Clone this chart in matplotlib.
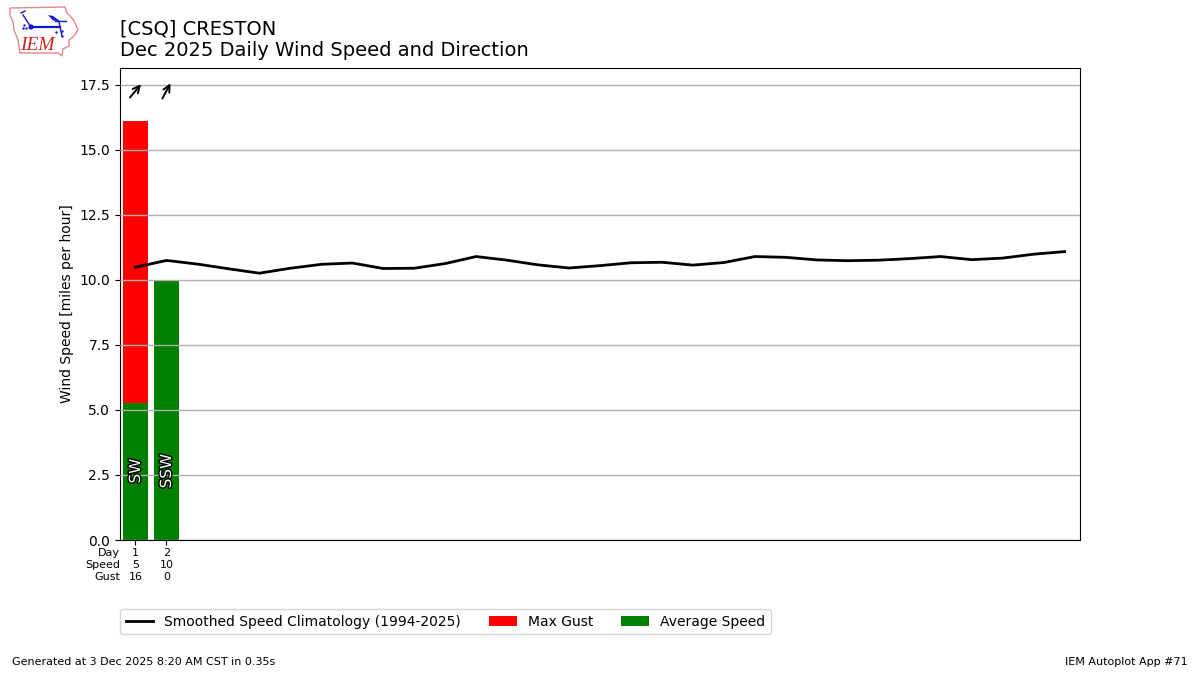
import numpy as np
import matplotlib
matplotlib.use("Agg")
import matplotlib.pyplot as plt
import matplotlib.patheffects as pe
from matplotlib.patches import Polygon, Circle
from matplotlib.transforms import offset_copy

days = [1, 2]
avg_speed = [5.27, 10.0]
max_gust = [16.1, 0.0]
directions = ["SW", "SSW"]
drct_deg = [220, 208]
speed_labels = ["5", "10"]
gust_labels = ["16", "0"]
clim_days = list(range(1, 32))
clim_speed = [10.49, 10.75, 10.61, 10.43, 10.26, 10.45, 10.60, 10.65, 10.44, 10.45,
              10.63, 10.90, 10.76, 10.58, 10.46, 10.55, 10.66, 10.68, 10.57, 10.67,
              10.90, 10.87, 10.77, 10.74, 10.76, 10.82, 10.90, 10.78, 10.84, 10.99, 11.09]
climo_label = "Smoothed Speed Climatology (1994-2025)"
table_names = ["Day", "Speed", "Gust"]

fig = plt.figure(figsize=(12, 6.75), dpi=100)
ax = fig.add_axes([0.1, 0.2, 0.8, 472 / 675])
ax.bar(days, max_gust, width=0.8, color="red", label="Max Gust", zorder=2)
ax.bar(days, avg_speed, width=0.8, color="green", label="Average Speed", zorder=2)
ax.plot(clim_days, clim_speed, color="k", lw=2, label=climo_label, zorder=3)
ax.set_xlim(0.5, 31.5)
ax.set_ylim(0, 18.15)
ax.set_yticks(np.arange(0, 18, 2.5))
ax.set_axisbelow(False)
ax.yaxis.grid(True, color="#b0b0b0", lw=1)
ax.set_xticks(days)
ax.set_xticklabels([])
ax.set_ylabel("Wind Speed [miles per hour]", fontsize=10)

row_y = [-0.50, -0.96, -1.42]
arrow_half = 6.2  # points
for d, lab, s, g, deg in zip(days, directions, speed_labels, gust_labels, drct_deg):
    ax.text(d, 2.65, lab, rotation=90, ha="center", va="center", color="white", fontsize=11,
            zorder=6, path_effects=[pe.withStroke(linewidth=2, foreground="black")])
    rad = np.deg2rad(deg)
    dx, dy = -np.sin(rad) * arrow_half, -np.cos(rad) * arrow_half
    head = offset_copy(ax.transData, fig=fig, x=dx, y=dy, units="points")
    tail = offset_copy(ax.transData, fig=fig, x=-dx, y=-dy, units="points")
    ax.annotate("", xy=(d, 17.27), xycoords=head, xytext=(d, 17.27), textcoords=tail,
                arrowprops=dict(arrowstyle="->", color="k", lw=1.4, shrinkA=0, shrinkB=0,
                                mutation_scale=12), zorder=6)
    for y, t in zip(row_y, [str(d), s, g]):
        ax.text(d, y, t, ha="center", va="center", fontsize=8)

for y, t in zip(row_y, table_names):
    ax.text(0.5, y, t, ha="right", va="center", fontsize=8)

fig.text(0.1, 0.9105, "[CSQ] CRESTON\nDec 2025 Daily Wind Speed and Direction",
         fontsize=14, ha="left", va="bottom", linespacing=1.21)

handles, labels = ax.get_legend_handles_labels()
order = [labels.index(climo_label), labels.index("Max Gust"), labels.index("Average Speed")]
ax.legend([handles[i] for i in order], [labels[i] for i in order], ncol=3, fontsize=10,
          loc="upper left", bbox_to_anchor=(0.1, 0.0975), bbox_transform=fig.transFigure,
          borderaxespad=0)

fig.text(0.01, 0.0125, "Generated at 3 Dec 2025 8:20 AM CST in 0.35s", fontsize=8, va="bottom")
fig.text(0.99, 0.0125, "IEM Autoplot App #71", fontsize=8, va="bottom", ha="right")

# IEM logo, drawn in a small pixel-sized axes
logo = fig.add_axes([0, 1 - 60 / 675, 80 / 1200, 60 / 675])
logo.set_xlim(0, 80)
logo.set_ylim(60, 0)
logo.axis("off")
outline = [(10, 8), (65, 7), (67, 13), (72, 18), (75, 23), (78, 30), (74, 36), (69, 40), (69, 46),
           (63, 49), (62, 56), (58, 53), (20, 53), (18, 40), (14, 30), (13, 22), (10, 15)]
logo.add_patch(Polygon(outline, closed=True, fc="white", ec="#e08a8a", lw=1))
blue = "#1515cc"
logo.plot([31, 60], [27, 27], color=blue, lw=1.6)
logo.plot([23, 31], [15, 27], color=blue, lw=1)
logo.plot([21, 25], [13, 11], color=blue, lw=1)
logo.plot([59, 62], [22, 36], color=blue, lw=1)
logo.plot([55, 66], [20.5, 20.5], color=blue, lw=1)
logo.add_patch(Polygon([(48, 15), (53, 16), (60, 21), (53, 20.5)], fc=blue, ec="none"))
logo.add_patch(Circle((31, 27), 2.6, fc=blue, ec="none"))
logo.scatter([23, 26, 24], [28, 28, 25], s=3, color=blue, marker="o", linewidths=0)
logo.scatter([56, 62, 62], [32, 31, 36], s=3, color=blue, marker="o", linewidths=0)
logo.text(20, 46, "IEM", color="#cc2222", fontsize=14, family="Liberation Serif", style="italic",
          ha="left", va="center")

fig.savefig("out.png", dpi=100)
